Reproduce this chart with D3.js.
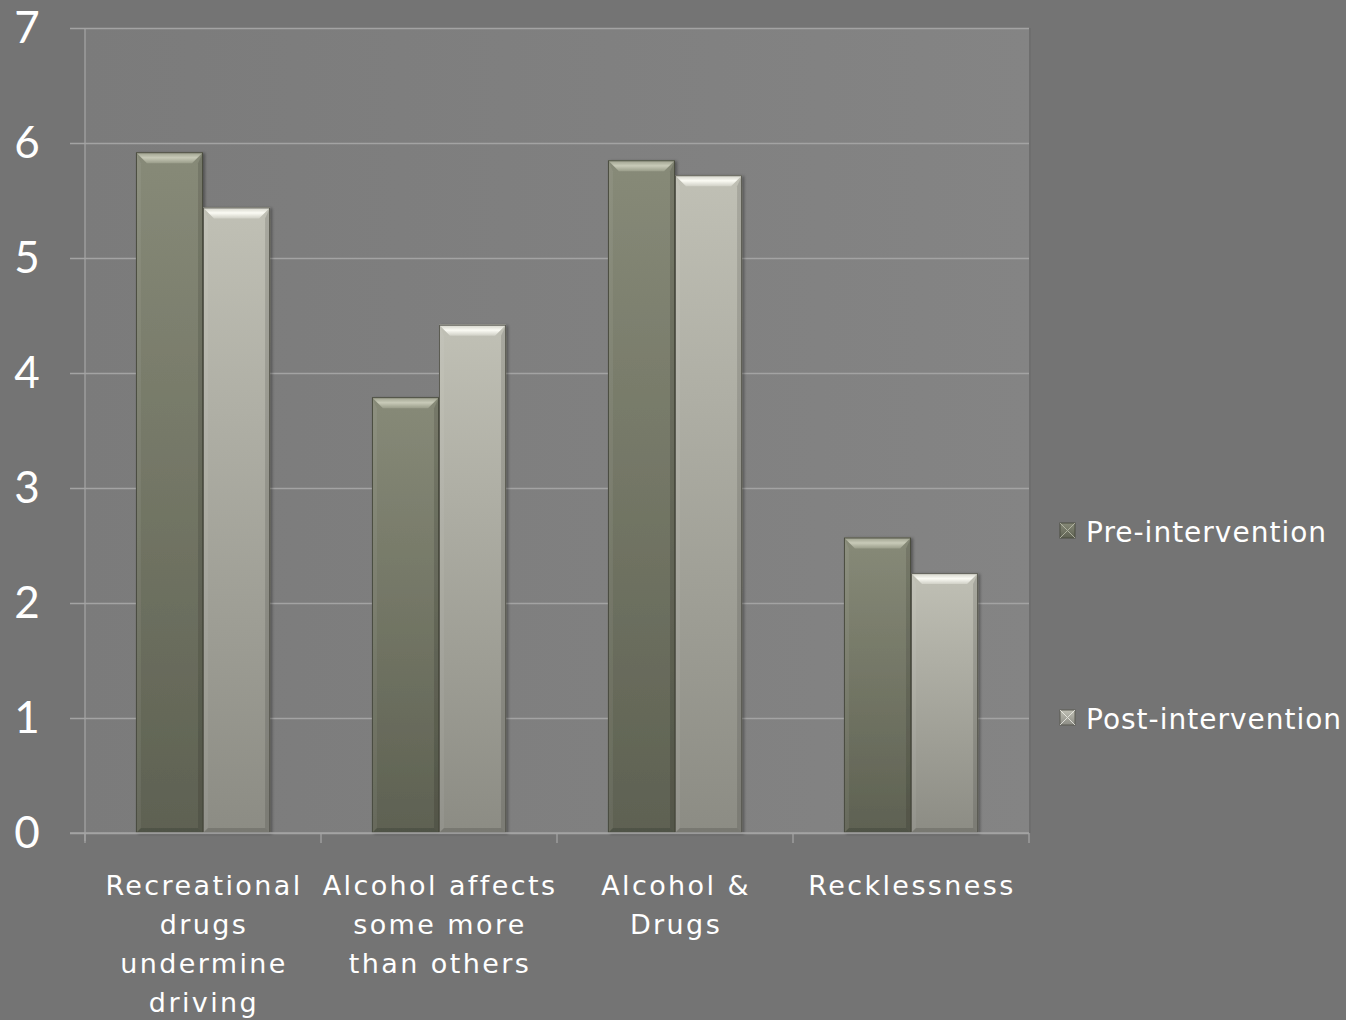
<!DOCTYPE html>
<html>
<head>
<meta charset="utf-8">
<script src="https://cdn.jsdelivr.net/npm/d3@7"></script>
<style>
  html, body { margin: 0; padding: 0; background: #747474; }
  svg { display: block; }
  text { font-family: "DejaVu Sans", "Lato", sans-serif; fill: #ffffff; }
  .num { font-family: "Lato", "Open Sans", sans-serif; font-weight: 400; }
</style>
</head>
<body>
<svg id="chart" width="1346" height="1020"></svg>
<script>
// Survey scores before and after the intervention
const categories = [
  ["Recreational", "drugs", "undermine", "driving"],
  ["Alcohol affects", "some more", "than others"],
  ["Alcohol &", "Drugs"],
  ["Recklessness"]
];
const seriesNames = ["Pre-intervention", "Post-intervention"];
const preValues  = [5.92, 3.79, 5.85, 2.57];
const postValues = [5.44, 4.42, 5.72, 2.26];
const yTicks = [0, 1, 2, 3, 4, 5, 6, 7];

const svg = d3.select("#chart");
const plot = { left: 85, right: 1029, top: 28, bottom: 833 };

const defs = svg.append("defs");

// plot-area backdrop
const bgGrad = defs.append("linearGradient").attr("id", "plotBg")
  .attr("x1", 0).attr("y1", 0).attr("x2", 1).attr("y2", 0);
bgGrad.append("stop").attr("offset", 0).attr("stop-color", "#7b7b7b");
bgGrad.append("stop").attr("offset", 1).attr("stop-color", "#848484");

// bar fills: light at the top, darker towards the base
const barStyles = [
  { id: "preFill", top: "#878a78", bottom: "#5e6152", bevel: "#9a9d8a", bevelHi: "#c8cab8", edge: "#4b4d41" },
  { id: "postFill", top: "#c0c0b5", bottom: "#8c8c84", bevel: "#d0d0c6", bevelHi: "#fbfbf4", edge: "#5b5b53" }
];
barStyles.forEach(s => {
  const g = defs.append("linearGradient").attr("id", s.id)
    .attr("x1", 0).attr("y1", 0).attr("x2", 0).attr("y2", 1);
  g.append("stop").attr("offset", 0).attr("stop-color", s.top);
  g.append("stop").attr("offset", 1).attr("stop-color", s.bottom);
  const b = defs.append("linearGradient").attr("id", s.id + "Bevel")
    .attr("x1", 0).attr("y1", 0).attr("x2", 0).attr("y2", 1);
  b.append("stop").attr("offset", 0).attr("stop-color", s.bevel);
  b.append("stop").attr("offset", 0.5).attr("stop-color", s.bevelHi);
  b.append("stop").attr("offset", 1).attr("stop-color", s.bevel);
});

const shadow = defs.append("filter").attr("id", "barShadow")
  .attr("x", -0.2).attr("y", -0.2).attr("width", 1.4).attr("height", 1.4);
shadow.append("feDropShadow").attr("dx", 2).attr("dy", 1).attr("stdDeviation", 1.5)
  .attr("flood-color", "#000").attr("flood-opacity", 0.35);

const x0 = d3.scaleBand().domain(d3.range(categories.length))
  .range([plot.left, plot.right]).paddingInner(0).paddingOuter(0);
const x1 = d3.scaleBand().domain([0, 1])
  .range([0, x0.bandwidth()]).paddingOuter(0.76).paddingInner(0);
const y = d3.scaleLinear().domain([0, 7]).range([plot.bottom, plot.top]);

// plot area
svg.append("rect")
  .attr("x", plot.left).attr("y", plot.top)
  .attr("width", plot.right - plot.left).attr("height", plot.bottom - plot.top)
  .attr("fill", "url(#plotBg)");
svg.append("line")
  .attr("x1", plot.right + 1).attr("x2", plot.right + 1)
  .attr("y1", plot.top).attr("y2", plot.bottom)
  .attr("stroke", "#6e6e6e").attr("stroke-width", 2);

// horizontal gridlines with tick stubs on the left
const yAxis = d3.axisLeft(y).tickValues(yTicks).tickSize(plot.right - plot.left + 15).tickFormat("");
const gy = svg.append("g").attr("transform", `translate(${plot.right},0)`).call(yAxis);
gy.select(".domain").remove();
gy.selectAll(".tick line").attr("stroke", "#a3a3a3").attr("stroke-width", 1.3);

svg.append("g").selectAll("text").data(yTicks).join("text")
  .attr("class", "num")
  .attr("x", 27).attr("y", d => y(d) + 15)
  .attr("text-anchor", "middle")
  .style("font-size", "44px")
  .text(d => d);

// vertical axis line
svg.append("line")
  .attr("x1", plot.left).attr("x2", plot.left)
  .attr("y1", plot.top).attr("y2", plot.bottom + 8)
  .attr("stroke", "#a3a3a3").attr("stroke-width", 1.3);

// category divider ticks below the baseline
const dividers = d3.range(categories.length + 1).map(i =>
  i < categories.length ? x0(i) : x0(categories.length - 1) + x0.bandwidth());
svg.append("g").selectAll("line").data(dividers).join("line")
  .attr("x1", d => d).attr("x2", d => d)
  .attr("y1", plot.bottom).attr("y2", plot.bottom + 10)
  .attr("stroke", "#a3a3a3").attr("stroke-width", 1.3);

// bars with bevelled tops
const rows = [];
categories.forEach((c, i) => {
  [preValues[i], postValues[i]].forEach((v, s) => rows.push({ i, s, v }));
});

const bars = svg.append("g").selectAll("g").data(rows).join("g")
  .attr("filter", "url(#barShadow)");

bars.each(function(d) {
  const g = d3.select(this);
  const st = barStyles[d.s];
  const bx = x0(d.i) + x1(d.s);
  const bw = x1.bandwidth();
  const by = y(d.v);
  const bh = y(0) - by;
  const bv = 11, sv = 5;

  g.append("rect").attr("x", bx).attr("y", by).attr("width", bw).attr("height", bh)
    .attr("fill", `url(#${st.id})`);
  // side and bottom facets
  g.append("polygon")
    .attr("points", [[bx, by], [bx + sv, by + bv], [bx + sv, by + bh - sv], [bx, by + bh]].join(" "))
    .attr("fill", "#ffffff").attr("opacity", 0.06);
  g.append("polygon")
    .attr("points", [[bx + bw, by], [bx + bw - sv, by + bv], [bx + bw - sv, by + bh - sv], [bx + bw, by + bh]].join(" "))
    .attr("fill", "#000000").attr("opacity", 0.12);
  g.append("polygon")
    .attr("points", [[bx, by + bh], [bx + sv, by + bh - sv], [bx + bw - sv, by + bh - sv], [bx + bw, by + bh]].join(" "))
    .attr("fill", "#000000").attr("opacity", 0.14);
  // top facet
  g.append("polygon")
    .attr("points", [[bx, by], [bx + bw, by], [bx + bw - bv, by + bv], [bx + bv, by + bv]].join(" "))
    .attr("fill", `url(#${st.id}Bevel)`);
  // outline
  g.append("rect").attr("x", bx + 0.5).attr("y", by + 0.5).attr("width", bw - 1).attr("height", bh - 1)
    .attr("fill", "none").attr("stroke", st.edge).attr("stroke-width", 1);
});

// baseline drawn over the bar bottoms
svg.append("line")
  .attr("x1", plot.left - 15).attr("x2", plot.right)
  .attr("y1", plot.bottom).attr("y2", plot.bottom)
  .attr("stroke", "#a3a3a3").attr("stroke-width", 1.3);

// category labels
const catG = svg.append("g").selectAll("text").data(categories).join("text")
  .attr("text-anchor", "middle")
  .style("font-size", "27px")
  .style("letter-spacing", "2.4px")
  .attr("transform", (d, i) => `translate(${x0(i) + x0.bandwidth() / 2 + 1},895)`);
catG.selectAll("tspan").data(d => d).join("tspan")
  .attr("x", 0).attr("dy", (d, j) => j === 0 ? 0 : 39)
  .text(d => d);

// legend
const legend = svg.append("g").selectAll("g").data(seriesNames).join("g")
  .attr("transform", (d, i) => `translate(1060,${531 + i * 187})`);
legend.append("rect").attr("x", 0).attr("y", -8).attr("width", 15).attr("height", 15)
  .attr("fill", (d, i) => `url(#${barStyles[i].id})`)
  .attr("stroke", (d, i) => barStyles[i].edge).attr("stroke-width", 1);
legend.append("path")
  .attr("d", "M0,-8 L15,7 M15,-8 L0,7")
  .attr("stroke", (d, i) => barStyles[i].bevelHi).attr("stroke-width", 1).attr("opacity", 0.7);
legend.append("text").attr("x", 26).attr("y", 11)
  .style("font-size", "28px")
  .style("letter-spacing", "1px")
  .text(d => d);
</script>
</body>
</html>
